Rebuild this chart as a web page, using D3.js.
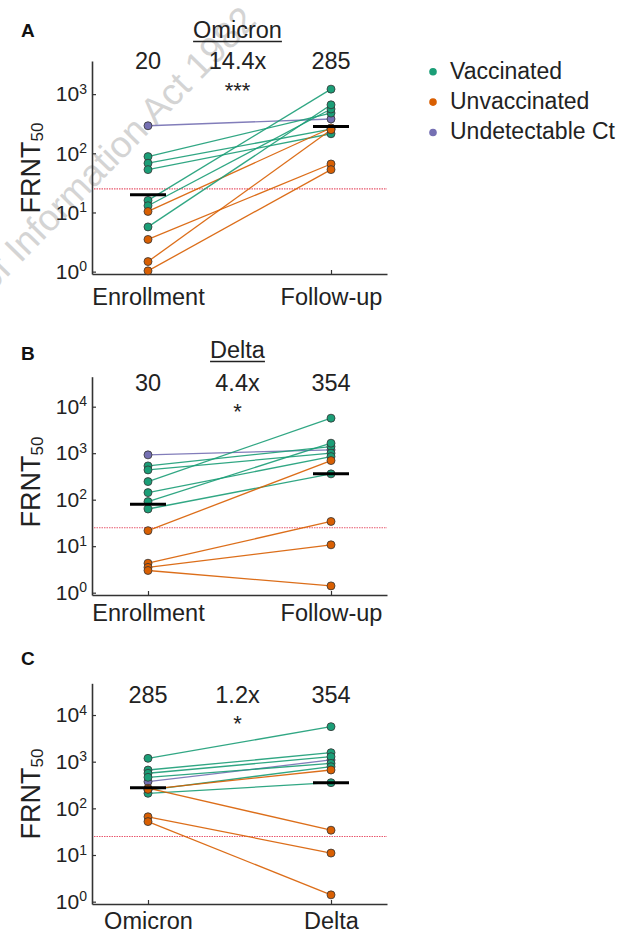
<!DOCTYPE html>
<html>
<head>
<meta charset="utf-8">
<script src="https://cdn.jsdelivr.net/npm/d3@7"></script>
<style>
  body { margin: 0; background: #fff; }
  svg { font-family: "Liberation Sans", Arial, sans-serif; }
</style>
</head>
<body>
<div id="chart"></div>
<script>
// Groups (index used in the *Group arrays below)
const groupNames = ["Vaccinated", "Unvaccinated", "Undetectable Ct"];
const groupColors = ["#1b9e77", "#d95f02", "#7570b3"];

// Panel A - Omicron FRNT50, enrollment vs follow-up
const omicronTimes = ["Enrollment", "Follow-up"];
const omicronGroup = [2, 0, 0, 0, 0, 0, 1, 0, 1, 1, 1];
const omicronEnroll = [292, 88, 68, 53, 16, 13, 10.4, 5.7, 3.5, 1.48, 1.03];
const omicronFollow = [380, 478, 256, 214, 1215, 560, 268, 660, 66, 250, 53];
const omicronMedian = [20, 285];
const omicronLabels = ["20", "14.4x", "285"];
const omicronSig = "***";

// Panel B - Delta FRNT50, enrollment vs follow-up
const deltaTimes = ["Enrollment", "Follow-up"];
const deltaGroup = [2, 0, 0, 0, 0, 0, 0, 1, 1, 1, 1];
const deltaEnroll = [920, 533, 437, 245, 142, 91, 63, 21.6, 4.3, 3.5, 3.0];
const deltaFollow = [1180, 1390, 1000, 5660, 845, 1640, 359, 694, 34, 10.7, 1.4];
const deltaMedian = [80, 359];
const deltaLabels = ["30", "4.4x", "354"];
const deltaSig = "*";

// Panel C - follow-up Omicron vs Delta
const variantNames = ["Omicron", "Delta"];
const variantGroup = [2, 0, 0, 0, 0, 0, 0, 1, 1, 1, 1];
const variantOmicron = [373, 1180, 663, 565, 463, 247, 210, 270, 255, 66, 52];
const variantDelta = [1090, 5630, 1560, 1280, 920, 780, 355, 34, 664, 11, 1.4];
const variantMedian = [277, 355];
const variantLabels = ["285", "1.2x", "354"];
const variantSig = "*";

const cutoff = 25;
const tickExpA = [0, 1, 2, 3];
const tickExpBC = [0, 1, 2, 3, 4];

const width = 635, height = 934;
const svg = d3.select("#chart").append("svg")
    .attr("width", width)
    .attr("height", height);

// watermark from the scanned document (anchored at its end, runs off the left edge)
svg.append("text")
    .attr("transform", "translate(258,22) rotate(-45.5)")
    .attr("font-size", 37)
    .attr("fill", "#d4d4d4")
    .attr("text-anchor", "end")
    .text("of Information Act 1982");

const panels = [
    {letter: "A", title: "Omicron", cats: omicronTimes, group: omicronGroup, v0: omicronEnroll, v1: omicronFollow,
     median: omicronMedian, labels: omicronLabels, sig: omicronSig, ticks: tickExpA,
     top: 61, bottom: 274, lo: -0.04, hi: 3.56, letterY: 37, titleY: 38, numY: 69, sigY: 98, xPad: 14, yLabelY: 168},
    {letter: "B", title: "Delta", cats: deltaTimes, group: deltaGroup, v0: deltaEnroll, v1: deltaFollow,
     median: deltaMedian, labels: deltaLabels, sig: deltaSig, ticks: tickExpBC,
     top: 376.7, bottom: 595, lo: -0.05, hi: 4.645, letterY: 360, titleY: 358, numY: 391, sigY: 419, xPad: 9, yLabelY: 482},
    {letter: "C", title: null, cats: variantNames, group: variantGroup, v0: variantOmicron, v1: variantDelta,
     median: variantMedian, labels: variantLabels, sig: variantSig, ticks: tickExpBC,
     top: 683.3, bottom: 904, lo: -0.05, hi: 4.68, letterY: 665, titleY: null, numY: 703, sigY: 731, xPad: 8, yLabelY: 794}
];

panels.forEach(p => {
    const g = svg.append("g");

    const y = d3.scaleLog()
        .domain([Math.pow(10, p.lo), Math.pow(10, p.hi)])
        .range([p.bottom, p.top]);
    const x = d3.scalePoint()
        .domain(p.cats)
        .range([92, 387])
        .padding(0.306);

    // detection limit
    g.append("line")
        .attr("x1", 94).attr("x2", 387)
        .attr("y1", y(cutoff)).attr("y2", y(cutoff))
        .attr("stroke", "#e8586e")
        .attr("stroke-width", 1.1)
        .attr("stroke-dasharray", "1.5,1");

    // y axis with 10^n labels
    const ya = g.append("g")
        .attr("transform", "translate(92,0)")
        .call(d3.axisLeft(y)
            .tickValues(p.ticks.map(e => Math.pow(10, e)))
            .tickSize(-4)
            .tickSizeOuter(0)
            .tickPadding(5)
            .tickFormat(""));
    ya.selectAll(".tick text").each(function(d) {
        const t = d3.select(this);
        t.text("10");
        t.append("tspan")
            .attr("dy", "-0.55em")
            .attr("font-size", 14)
            .text(Math.round(Math.log10(d)));
    });
    ya.attr("font-size", 21).attr("font-family", null);
    ya.selectAll(".tick text").attr("fill", "#222");

    // x axis
    const xa = g.append("g")
        .attr("transform", `translate(0,${p.bottom})`)
        .call(d3.axisBottom(x)
            .tickSize(-4)
            .tickSizeOuter(0)
            .tickPadding(p.xPad));
    xa.attr("font-size", 23.5).attr("font-family", null);
    xa.selectAll(".tick text").attr("fill", "#222");

    g.selectAll(".domain").attr("stroke", "#333").attr("stroke-width", 1.6);
    g.selectAll(".tick line").attr("stroke", "#333").attr("stroke-width", 1.2);

    // paired lines
    const idx = d3.range(p.v0.length);
    g.selectAll(".pair")
        .data(idx)
        .enter()
        .append("line")
        .attr("x1", x(p.cats[0]))
        .attr("x2", x(p.cats[1]))
        .attr("y1", i => y(p.v0[i]))
        .attr("y2", i => y(p.v1[i]))
        .attr("stroke", i => groupColors[p.group[i]])
        .attr("stroke-width", 1.3)
        .attr("opacity", 0.9);

    // dots
    [p.v0, p.v1].forEach((vals, k) => {
        g.selectAll(".dot" + k)
            .data(idx)
            .enter()
            .append("circle")
            .attr("cx", x(p.cats[k]))
            .attr("cy", i => y(vals[i]))
            .attr("r", 4)
            .attr("fill", i => groupColors[p.group[i]])
            .attr("stroke", "#333")
            .attr("stroke-width", 0.8);
    });

    // median bars
    g.selectAll(".median")
        .data(p.median)
        .enter()
        .append("line")
        .attr("x1", (d, k) => x(p.cats[k]) - 18)
        .attr("x2", (d, k) => x(p.cats[k]) + 18)
        .attr("y1", d => y(d))
        .attr("y2", d => y(d))
        .attr("stroke", "#000")
        .attr("stroke-width", 3);

    // numbers above
    const mid = (x(p.cats[0]) + x(p.cats[1])) / 2 - 2;
    const numX = [x(p.cats[0]), mid, x(p.cats[1])];
    g.selectAll(".num")
        .data(p.labels)
        .enter()
        .append("text")
        .attr("x", (d, k) => numX[k])
        .attr("y", p.numY)
        .attr("text-anchor", "middle")
        .attr("font-size", 23.5)
        .attr("fill", "#222")
        .text(d => d);

    g.append("text")
        .attr("x", mid)
        .attr("y", p.sigY)
        .attr("text-anchor", "middle")
        .attr("font-size", 22)
        .attr("fill", "#222")
        .text(p.sig);

    // panel letter
    g.append("text")
        .attr("x", 21)
        .attr("y", p.letterY)
        .attr("font-size", 19)
        .attr("font-weight", "bold")
        .attr("fill", "#111")
        .text(p.letter);

    // underlined title
    if (p.title) {
        const t = g.append("text")
            .attr("x", mid)
            .attr("y", p.titleY)
            .attr("text-anchor", "middle")
            .attr("font-size", 23.5)
            .attr("fill", "#222")
            .text(p.title);
        const w = t.node().getComputedTextLength();
        g.append("line")
            .attr("x1", mid - w / 2).attr("x2", mid + w / 2)
            .attr("y1", p.titleY + 3.5).attr("y2", p.titleY + 3.5)
            .attr("stroke", "#222")
            .attr("stroke-width", 1.4);
    }

    // y label FRNT50
    const yl = g.append("text")
        .attr("transform", `translate(40,${p.yLabelY}) rotate(-90)`)
        .attr("text-anchor", "middle")
        .attr("font-size", 27)
        .attr("fill", "#222");
    yl.append("tspan").text("FRNT");
    yl.append("tspan").attr("font-size", 17).attr("dy", 3).text("50");
});

// legend
const legend = svg.append("g");
groupNames.forEach((name, i) => {
    const rowY = 71.7 + i * 30.4;
    legend.append("circle")
        .attr("cx", 433)
        .attr("cy", rowY)
        .attr("r", 3.8)
        .attr("fill", groupColors[i]);
    legend.append("text")
        .attr("x", 450)
        .attr("y", rowY + 6.8)
        .attr("font-size", 23)
        .attr("fill", "#222")
        .text(name);
});
</script>
</body>
</html>
